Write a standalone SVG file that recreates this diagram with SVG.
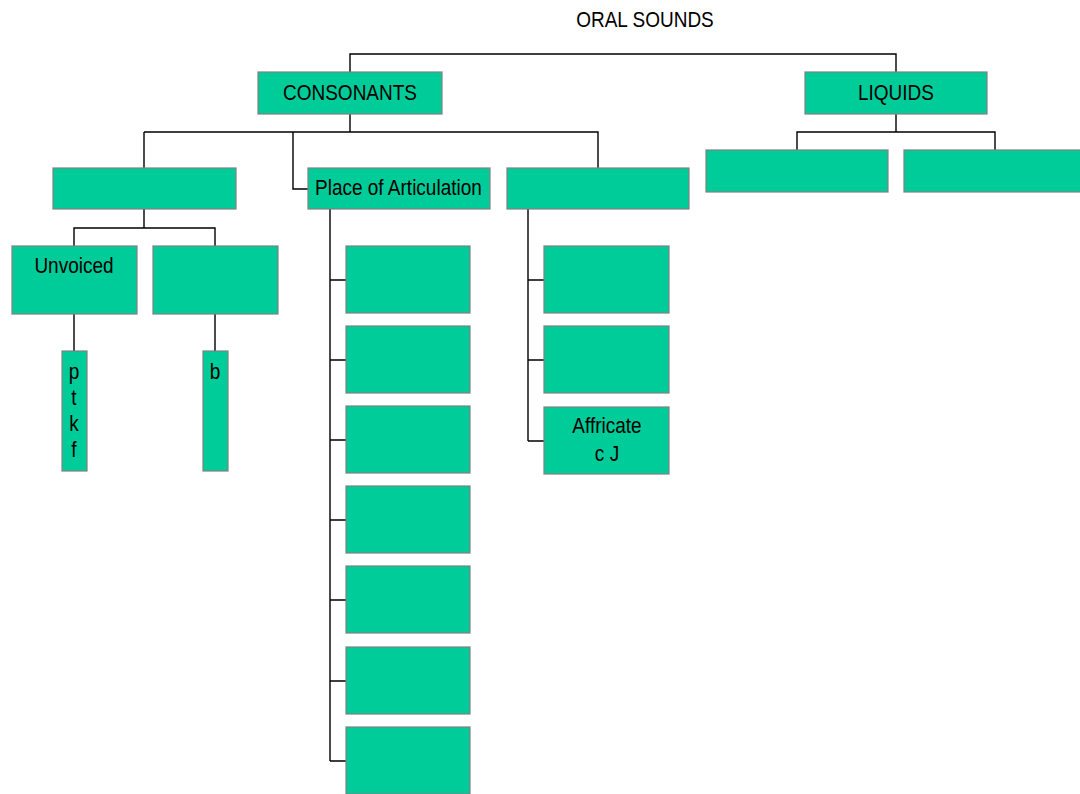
<svg xmlns="http://www.w3.org/2000/svg" width="1080" height="794" viewBox="0 0 1080 794">
<style>
.b{fill:#00cc99;stroke:#808080;stroke-width:1.2}
.c{fill:none;stroke:#000;stroke-width:1.4}
text{font-family:"Liberation Sans",Arial,sans-serif;font-size:19px;fill:#000}
.m{text-anchor:middle}
</style>
<rect width="1080" height="794" fill="#fff"/>
<g id="connectors" class="c">
<path d="M350,72V54H896V72"/>
<path d="M350,114V132H598V168M144,132H350M144,132V168M293,132V189H308"/>
<path d="M896,114V132M797,150V132H995V150"/>
<path d="M144,209V228H74V246M144,228H215V246"/>
<path d="M74,314V351M215,314V351"/>
<path d="M330,209V761M330,280H346M330,360H346M330,440H346M330,520H346M330,600H346M330,681H346M330,761H346"/>
<path d="M528,209V441M528,280H544M528,360H544M528,441H544"/>
</g>
<g id="oral-sounds"><text class="m" transform="translate(645,27) scale(1,1.15)">ORAL SOUNDS</text></g>
<g id="consonants"><rect class="b" x="258" y="72" width="184" height="42"/><text class="m" transform="translate(350,100) scale(1,1.15)">CONSONANTS</text></g>
<g id="liquids"><rect class="b" x="805" y="72" width="182" height="42"/><text class="m" transform="translate(896,100) scale(1,1.15)">LIQUIDS</text></g>
<g id="liquid-1"><rect class="b" x="706" y="150" width="182" height="42"/></g>
<g id="liquid-2"><rect class="b" x="904" y="150" width="182" height="42"/></g>
<g id="voicing"><rect class="b" x="53" y="168" width="183" height="41"/></g>
<g id="place"><rect class="b" x="308" y="168" width="182" height="41"/><text transform="translate(315,195) scale(1,1.15)">Place of Articulation</text></g>
<g id="manner"><rect class="b" x="507" y="168" width="182" height="41"/></g>
<g id="unvoiced"><rect class="b" x="12" y="246" width="125" height="68"/><text class="m" transform="translate(74,273) scale(1,1.15)">Unvoiced</text></g>
<g id="voiced"><rect class="b" x="153" y="246" width="125" height="68"/></g>
<g id="unvoiced-list"><rect class="b" x="62" y="351" width="25" height="120"/>
<text class="m" transform="translate(74,379) scale(1,1.15)">p</text>
<text class="m" transform="translate(74,405) scale(1,1.15)">t</text>
<text class="m" transform="translate(74,431) scale(1,1.15)">k</text>
<text class="m" transform="translate(74,457) scale(1,1.15)">f</text></g>
<g id="voiced-list"><rect class="b" x="203" y="351" width="25" height="120"/><text class="m" transform="translate(215,379) scale(1,1.15)">b</text></g>
<g id="place-1"><rect class="b" x="346" y="246" width="124" height="67"/></g>
<g id="place-2"><rect class="b" x="346" y="326" width="124" height="67"/></g>
<g id="place-3"><rect class="b" x="346" y="406" width="124" height="67"/></g>
<g id="place-4"><rect class="b" x="346" y="486" width="124" height="67"/></g>
<g id="place-5"><rect class="b" x="346" y="566" width="124" height="67"/></g>
<g id="place-6"><rect class="b" x="346" y="647" width="124" height="67"/></g>
<g id="place-7"><rect class="b" x="346" y="727" width="124" height="67"/></g>
<g id="manner-1"><rect class="b" x="544" y="246" width="125" height="67"/></g>
<g id="manner-2"><rect class="b" x="544" y="326" width="125" height="67"/></g>
<g id="affricate"><rect class="b" x="544" y="407" width="125" height="67"/><text class="m" transform="translate(607,433) scale(1,1.15)">Affricate</text><text class="m" transform="translate(607,461) scale(1,1.15)">c J</text></g>
</svg>
